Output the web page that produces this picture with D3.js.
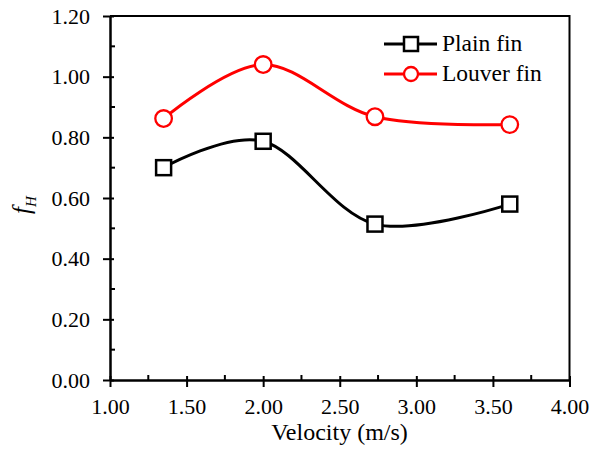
<!DOCTYPE html>
<html>
<head>
<meta charset="utf-8">
<script src="https://cdn.jsdelivr.net/npm/d3@7"></script>
<style>
  html, body { margin: 0; padding: 0; background: #fff; }
  svg text { font-family: "Liberation Serif", "Times New Roman", serif; fill: #000; }
</style>
</head>
<body>
<svg id="chart" width="597" height="451"></svg>
<script>
// Measured heat-transfer factor versus air velocity
const velocity = [1.35, 2.00, 2.73, 3.61];
const plainFin = [0.700, 0.787, 0.514, 0.580];
const louverFin = [0.862, 1.040, 0.868, 0.842];
const seriesNames = ["Plain fin", "Louver fin"];
const xTicks = [1.00, 1.50, 2.00, 2.50, 3.00, 3.50, 4.00];
const yTicks = [0.00, 0.20, 0.40, 0.60, 0.80, 1.00, 1.20];

const svg = d3.select("#chart");
const plotL = 110, plotR = 569.5, plotT = 16, plotB = 380;

const x = d3.scaleLinear().domain([1, 4]).range([plotL, plotR]);
const y = d3.scaleLinear().domain([0, 1.2]).range([plotB, plotT]);

// frame (top and right edges)
svg.append("path")
  .attr("d", `M${plotL},${plotT}H${plotR}V${plotB}`)
  .attr("fill", "none").attr("stroke", "#000").attr("stroke-width", 2);

// minor ticks (inside only)
const xMinor = d3.range(1.25, 4, 0.5);
const yMinor = d3.range(0.1, 1.2, 0.2);
svg.append("g").selectAll("line").data(xMinor).join("line")
  .attr("x1", d => x(d)).attr("x2", d => x(d))
  .attr("y1", plotB).attr("y2", plotB - 5)
  .attr("stroke", "#000").attr("stroke-width", 2);
svg.append("g").selectAll("line").data(yMinor).join("line")
  .attr("y1", d => y(d)).attr("y2", d => y(d))
  .attr("x1", plotL).attr("x2", plotL + 5)
  .attr("stroke", "#000").attr("stroke-width", 2);

// x axis
const xAxis = svg.append("g").attr("transform", `translate(0,${plotB})`)
  .call(d3.axisBottom(x).tickValues(xTicks).tickFormat(d3.format(".2f"))
    .tickSizeInner(7).tickSizeOuter(0).tickPadding(11));
xAxis.select(".domain").attr("stroke-width", 2.5);
xAxis.selectAll(".tick line").attr("stroke-width", 2)
  .attr("y1", -4).attr("y2", 7);
xAxis.selectAll("text").attr("font-size", 22)
  .attr("font-family", "Liberation Serif");

// y axis
const yAxis = svg.append("g").attr("transform", `translate(${plotL},0)`)
  .call(d3.axisLeft(y).tickValues(yTicks).tickFormat(d3.format(".2f"))
    .tickSizeInner(7).tickSizeOuter(0).tickPadding(13));
yAxis.select(".domain").attr("stroke-width", 2.5);
yAxis.selectAll(".tick line").attr("stroke-width", 2)
  .attr("x1", 4).attr("x2", -7);
yAxis.selectAll("text").attr("font-size", 22)
  .attr("font-family", "Liberation Serif");

// axis titles
svg.append("text").attr("x", 339.5).attr("y", 440)
  .attr("text-anchor", "middle").attr("font-size", 24)
  .text("Velocity (m/s)");
const yt = svg.append("text")
  .attr("transform", "translate(30,205) rotate(-90)")
  .attr("text-anchor", "middle").attr("font-size", 25).attr("font-style", "italic");
yt.append("tspan").text("f");
yt.append("tspan").attr("font-size", 15).attr("dy", 6).text("H");

// series
const line = d3.line().x(d => x(d[0])).y(d => y(d[1])).curve(d3.curveCardinal.tension(0));
const plainPts = velocity.map((v, i) => [v, plainFin[i]]);
const louverPts = velocity.map((v, i) => [v, louverFin[i]]);

function drawSeries(pts, color, marker) {
  svg.append("path").datum(pts).attr("d", line)
    .attr("fill", "none").attr("stroke", color).attr("stroke-width", 3);
  const g = svg.append("g");
  if (marker === "square") {
    g.selectAll("rect").data(pts).join("rect")
      .attr("x", d => x(d[0]) - 7.5).attr("y", d => y(d[1]) - 7.5)
      .attr("width", 15).attr("height", 15)
      .attr("fill", "#fff").attr("stroke", color).attr("stroke-width", 2.5);
  } else {
    g.selectAll("circle").data(pts).join("circle")
      .attr("cx", d => x(d[0])).attr("cy", d => y(d[1])).attr("r", 8.3)
      .attr("fill", "#fff").attr("stroke", color).attr("stroke-width", 2.3);
  }
}
drawSeries(plainPts, "#000", "square");
drawSeries(louverPts, "#ff0000", "circle");

// legend
const legend = [
  { name: seriesNames[0], color: "#000", marker: "square", yPos: 44 },
  { name: seriesNames[1], color: "#ff0000", marker: "circle", yPos: 74 }
];
legend.forEach(l => {
  svg.append("line").attr("x1", 384).attr("x2", 437)
    .attr("y1", l.yPos).attr("y2", l.yPos)
    .attr("stroke", l.color).attr("stroke-width", 3);
  if (l.marker === "square") {
    svg.append("rect").attr("x", 411 - 7).attr("y", l.yPos - 7)
      .attr("width", 14).attr("height", 14)
      .attr("fill", "#fff").attr("stroke", l.color).attr("stroke-width", 2.5);
  } else {
    svg.append("circle").attr("cx", 411).attr("cy", l.yPos).attr("r", 7)
      .attr("fill", "#fff").attr("stroke", l.color).attr("stroke-width", 2.3);
  }
  svg.append("text").attr("x", 442).attr("y", l.yPos + 7)
    .attr("font-size", 23.5).text(l.name);
});
</script>
</body>
</html>
